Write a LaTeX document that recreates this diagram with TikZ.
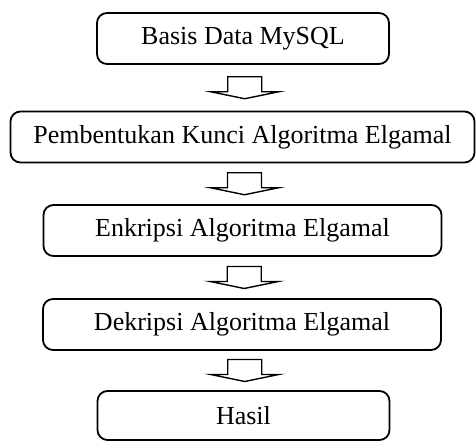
\documentclass[tikz,border=0pt]{standalone}
\usepackage{fontspec}
\setmainfont{Liberation Serif}
\usetikzlibrary{calc}

\tikzset{
  tahap/.style={draw, line width=1.8pt, rounded corners=10pt, inner sep=0pt,
    minimum height=51pt, font=\fontsize{26}{30}\selectfont},
  panah/.style={draw, line width=1.4pt, line join=miter}
}

\begin{document}
\begin{tikzpicture}[x=1pt,y=-1pt]
\useasboundingbox (0,0) rectangle (476,441);

% tahapan proses
\node[tahap, minimum width=292pt] (mysql) at (243,38.5) {Basis Data MySQL};
\node[tahap, minimum width=464pt] (kunci) at (242.5,137) {Pembentukan Kunci Algoritma Elgamal};
\node[tahap, minimum width=398pt] (enkripsi) at (242.5,230.5) {Enkripsi Algoritma Elgamal};
\node[tahap, minimum width=398pt] (dekripsi) at (242,324.5) {Dekripsi Algoritma Elgamal};
\node[tahap, minimum width=292pt, minimum height=49pt] (hasil) at (243.5,415.5) {Hasil};

% panah blok antar tahap
\foreach \a/\b in {mysql/kunci, kunci/enkripsi, enkripsi/dekripsi, dekripsi/hasil}
  \draw[panah, shift={($(\a.south)!0.5!(\b.north)+(2,0)$)}]
    (-17,-11) -- (17,-11) -- (17,4) -- (34,4) -- (0,11) -- (-34,4) -- (-17,4) -- cycle;

\end{tikzpicture}
\end{document}
